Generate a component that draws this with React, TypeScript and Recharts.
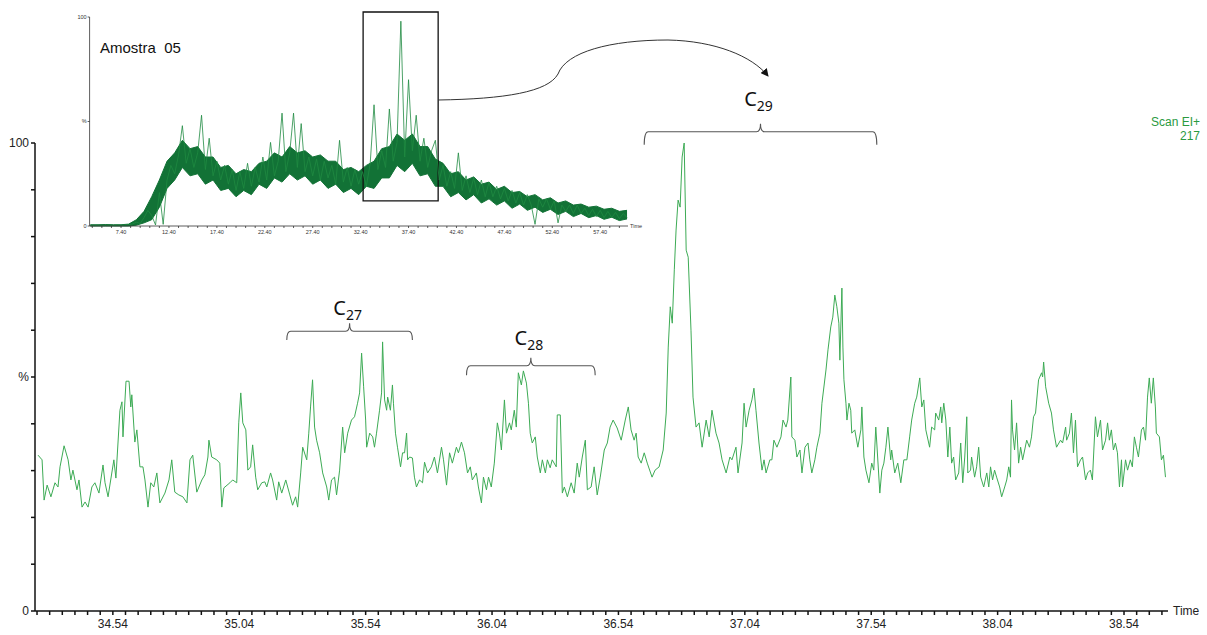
import React from "react";
import { LineChart, ComposedChart, Line, Area, XAxis, YAxis, ReferenceArea } from "recharts";

// main trace: [retention time (min), relative intensity %]
const mainTrace: [number, number][] = [
  [34.244, 33.3], [34.26, 32.3], [34.268, 23.7], [34.28, 26.9], [34.295, 24.4], [34.311, 27.4], [34.323, 26.5], [34.331, 30.8], [34.347, 35.3], [34.363, 32.3],
  [34.374, 28.0], [34.382, 30.1], [34.398, 25.9], [34.406, 28.0], [34.418, 22.2], [34.43, 23.3], [34.442, 22.2], [34.457, 26.5], [34.469, 27.4], [34.485, 25.2],
  [34.501, 31.2], [34.509, 27.4], [34.521, 24.4], [34.544, 32.3], [34.552, 28.4], [34.568, 42.9], [34.576, 44.7], [34.58, 37.2], [34.592, 49.1], [34.604, 49.1],
  [34.611, 43.6], [34.615, 46.2], [34.627, 36.1], [34.635, 38.7], [34.647, 30.8], [34.659, 30.8], [34.667, 28.0], [34.679, 22.2], [34.69, 27.4], [34.702, 26.5],
  [34.714, 29.5], [34.726, 23.1], [34.746, 25.2], [34.762, 28.0], [34.773, 32.3], [34.785, 25.4], [34.801, 24.8], [34.817, 24.4], [34.833, 23.1], [34.845, 32.3],
  [34.856, 33.3], [34.872, 25.4], [34.892, 28.0], [34.904, 29.1], [34.916, 32.9], [34.92, 36.5], [34.931, 32.9], [34.951, 32.3], [34.963, 31.6], [34.971, 22.2],
  [34.979, 26.3], [35.003, 27.4], [35.014, 28.0], [35.03, 27.4], [35.038, 40.2], [35.046, 46.6], [35.054, 40.2], [35.066, 38.7], [35.074, 30.1], [35.085, 30.8],
  [35.093, 35.5], [35.105, 28.6], [35.113, 25.9], [35.129, 27.4], [35.141, 27.6], [35.149, 26.5], [35.164, 29.5], [35.172, 28.0], [35.188, 23.7], [35.196, 27.6],
  [35.208, 25.2], [35.224, 28.0], [35.24, 24.8], [35.251, 22.6], [35.263, 24.4], [35.271, 22.2], [35.283, 29.5], [35.291, 35.0], [35.307, 32.3], [35.315, 38.0],
  [35.322, 43.6], [35.33, 49.4], [35.338, 39.3], [35.346, 36.5], [35.358, 33.8], [35.37, 29.5], [35.386, 26.5], [35.394, 23.7], [35.405, 28.0], [35.417, 28.6],
  [35.425, 24.8], [35.437, 30.1], [35.449, 39.3], [35.457, 33.8], [35.469, 38.0], [35.484, 40.8], [35.496, 41.5], [35.508, 44.4], [35.516, 46.6], [35.524, 55.1],
  [35.532, 47.9], [35.54, 40.8], [35.544, 35.0], [35.556, 38.0], [35.568, 37.2], [35.575, 35.0], [35.583, 38.0], [35.595, 42.9], [35.603, 46.6], [35.607, 57.5],
  [35.615, 45.1], [35.623, 42.9], [35.627, 45.7], [35.638, 42.9], [35.646, 48.3], [35.65, 44.4], [35.658, 38.0], [35.666, 35.0], [35.678, 30.8], [35.686, 33.8],
  [35.694, 33.8], [35.702, 38.0], [35.706, 32.3], [35.714, 32.9], [35.725, 32.7], [35.733, 28.6], [35.741, 26.5], [35.753, 28.0], [35.765, 27.4], [35.773, 31.8],
  [35.785, 29.5], [35.8, 30.8], [35.812, 32.9], [35.824, 29.5], [35.84, 35.0], [35.848, 32.3], [35.86, 26.9], [35.872, 33.8], [35.883, 31.6], [35.899, 35.0],
  [35.907, 33.8], [35.919, 36.1], [35.931, 33.8], [35.943, 29.5], [35.954, 30.8], [35.962, 28.0], [35.978, 29.5], [35.986, 26.5], [35.998, 23.1], [36.006, 28.6],
  [36.018, 25.9], [36.026, 28.6], [36.037, 26.5], [36.049, 31.6], [36.061, 40.2], [36.069, 38.0], [36.077, 34.4], [36.089, 45.1], [36.097, 38.0], [36.109, 40.2],
  [36.116, 38.7], [36.128, 42.9], [36.136, 39.3], [36.144, 50.9], [36.156, 48.3], [36.164, 51.3], [36.176, 48.7], [36.184, 44.4], [36.191, 38.0], [36.199, 35.9],
  [36.211, 37.2], [36.219, 32.9], [36.231, 29.5], [36.239, 32.3], [36.251, 29.5], [36.259, 32.3], [36.27, 30.6], [36.278, 32.3], [36.294, 30.8], [36.298, 41.9],
  [36.31, 41.9], [36.318, 25.2], [36.326, 26.5], [36.338, 24.4], [36.353, 27.4], [36.365, 25.2], [36.377, 31.6], [36.385, 28.6], [36.397, 32.9], [36.409, 36.5],
  [36.417, 25.9], [36.432, 26.5], [36.444, 30.8], [36.456, 24.8], [36.468, 28.6], [36.484, 34.4], [36.496, 35.9], [36.507, 39.3], [36.519, 40.8], [36.535, 39.1],
  [36.551, 36.5], [36.567, 40.8], [36.579, 43.6], [36.59, 38.7], [36.602, 36.5], [36.61, 38.0], [36.618, 32.9], [36.63, 31.6], [36.642, 33.8], [36.654, 31.6],
  [36.673, 28.6], [36.685, 30.1], [36.701, 30.8], [36.717, 34.4], [36.729, 42.3], [36.737, 56.4], [36.745, 65.0], [36.753, 61.5], [36.761, 72.9], [36.768, 81.4],
  [36.776, 87.8], [36.784, 86.3], [36.792, 97.0], [36.8, 100.0], [36.808, 77.1], [36.816, 75.6], [36.827, 60.0], [36.835, 45.7], [36.847, 39.3], [36.859, 40.2],
  [36.871, 35.0], [36.887, 40.8], [36.899, 37.2], [36.91, 42.9], [36.926, 38.0], [36.938, 35.9], [36.95, 32.3], [36.966, 29.5], [36.981, 32.9], [36.989, 32.3],
  [37.005, 35.0], [37.013, 29.5], [37.029, 35.9], [37.037, 44.4], [37.045, 39.3], [37.057, 42.9], [37.068, 45.1], [37.076, 47.6], [37.084, 42.9], [37.096, 35.9],
  [37.108, 30.1], [37.116, 32.3], [37.124, 29.5], [37.139, 32.3], [37.147, 32.3], [37.155, 36.5], [37.167, 35.0], [37.183, 37.2], [37.191, 40.8], [37.203, 39.3],
  [37.21, 40.8], [37.222, 50.0], [37.226, 37.2], [37.238, 36.5], [37.246, 32.9], [37.258, 34.4], [37.266, 29.5], [37.278, 35.0], [37.29, 35.9], [37.297, 32.3],
  [37.305, 29.5], [37.317, 32.3], [37.325, 35.0], [37.337, 38.0], [37.345, 44.4], [37.361, 51.5], [37.369, 55.8], [37.38, 60.7], [37.388, 62.8], [37.396, 67.5],
  [37.404, 65.0], [37.412, 61.5], [37.416, 53.6], [37.424, 69.0], [37.428, 56.4], [37.432, 49.4], [37.44, 44.4], [37.444, 40.8], [37.452, 44.4], [37.459, 42.9],
  [37.463, 38.0], [37.475, 38.7], [37.487, 35.0], [37.499, 38.7], [37.503, 43.6], [37.511, 32.9], [37.519, 30.1], [37.531, 27.4], [37.542, 31.6], [37.55, 30.1],
  [37.558, 39.3], [37.562, 35.9], [37.574, 25.2], [37.582, 30.1], [37.59, 31.6], [37.598, 35.0], [37.606, 39.3], [37.617, 32.3], [37.621, 34.4], [37.633, 29.5],
  [37.645, 31.6], [37.657, 27.4], [37.669, 32.3], [37.681, 32.3], [37.692, 37.2], [37.7, 40.8], [37.712, 44.4], [37.72, 45.7], [37.732, 49.8], [37.74, 43.6],
  [37.748, 45.1], [37.756, 38.7], [37.771, 35.0], [37.779, 39.3], [37.791, 38.7], [37.795, 42.3], [37.807, 40.8], [37.815, 43.6], [37.819, 40.2], [37.827, 44.4],
  [37.835, 40.8], [37.843, 32.9], [37.851, 39.3], [37.858, 31.6], [37.866, 32.9], [37.874, 28.0], [37.886, 29.5], [37.894, 35.9], [37.902, 27.4], [37.91, 32.9],
  [37.918, 41.5], [37.922, 29.5], [37.933, 30.1], [37.937, 32.9], [37.949, 28.6], [37.957, 30.8], [37.965, 35.0], [37.973, 28.6], [37.985, 26.5], [37.997, 29.5],
  [38.005, 26.5], [38.012, 30.8], [38.02, 28.0], [38.028, 30.1], [38.036, 28.6], [38.048, 26.5], [38.056, 24.4], [38.068, 26.5], [38.076, 28.0], [38.084, 30.8],
  [38.091, 28.6], [38.095, 45.1], [38.099, 38.7], [38.107, 34.4], [38.115, 40.2], [38.123, 31.6], [38.131, 35.0], [38.139, 32.3], [38.147, 34.4], [38.155, 36.5],
  [38.166, 35.0], [38.174, 37.2], [38.182, 41.5], [38.19, 42.3], [38.202, 49.4], [38.214, 50.9], [38.218, 50.0], [38.222, 53.2], [38.23, 47.9], [38.242, 44.4],
  [38.253, 42.3], [38.261, 38.7], [38.273, 35.0], [38.289, 36.5], [38.297, 35.9], [38.309, 39.3], [38.313, 36.5], [38.324, 38.0], [38.332, 42.3], [38.34, 33.8],
  [38.348, 40.8], [38.356, 30.8], [38.368, 32.3], [38.376, 32.9], [38.388, 28.0], [38.396, 29.5], [38.407, 30.1], [38.415, 28.0], [38.427, 41.5], [38.435, 37.2],
  [38.447, 40.8], [38.455, 34.4], [38.467, 36.5], [38.475, 40.2], [38.482, 36.5], [38.49, 38.7], [38.498, 34.4], [38.506, 35.9], [38.514, 33.8], [38.522, 26.5],
  [38.53, 32.3], [38.534, 26.5], [38.546, 32.3], [38.554, 30.1], [38.565, 32.3], [38.573, 30.8], [38.581, 37.2], [38.589, 35.0], [38.597, 32.9], [38.609, 38.7],
  [38.617, 39.3], [38.625, 36.5], [38.633, 45.7], [38.64, 49.8], [38.648, 44.4], [38.656, 49.8], [38.664, 43.6], [38.668, 38.0], [38.68, 37.2], [38.688, 32.3],
  [38.696, 33.3], [38.704, 28.6],
];

const mainTimeLabels = [34.54, 35.04, 35.54, 36.04, 36.54, 37.04, 37.54, 38.04, 38.54];
const percentTicks = [0, 10, 20, 30, 40, 50, 60, 70, 80, 90, 100];

// inset: whole run, one reading every 0.4 min from 4.2 min
const insetStart = 4.2;
const insetStep = 0.4;
const insetValues = [
  0.3, 0.2, 0.3, 0.2, 0.3, 0.3, 0.2, 0.4, 0.3, 0.5, 0.6, 1.0, 1.8, 1.2, 4.0, 7.5, 5.0, 0.5, 16, 0.8,
  22, 29, 25, 34, 48, 30, 37, 28, 35, 53, 27, 42, 24, 31, 22, 29, 20, 27, 17, 26,
  18, 30, 19, 28, 21, 33, 22, 40, 24, 31, 54, 26, 35, 54, 28, 49, 26, 33, 24, 32,
  22, 31, 23, 29, 20, 41, 21, 28, 19, 27, 20, 26, 19, 30, 58, 27, 36, 28, 56, 31,
  40, 98, 33, 70, 36, 53, 31, 42, 28, 36, 41, 22, 29, 19, 26, 18, 35, 17, 24, 16,
  23, 15, 22, 14, 21, 14, 19, 13, 18, 12, 17, 11, 16, 10, 15, 10, 0.8, 13, 9, 13,
  8, 12, 1.5, 10, 7, 10, 6, 10, 6, 8.5, 5, 8, 4.5, 7.5, 4, 7, 4, 6.5, 3.5, 6,
  4,
];
// dense noise band of the inset, one pair every 0.8 min from 4.2 min
const bandStep = 0.8;
const insetLow = [
  0, 0, 0, 0, 0, 0, 0.4, 1.5, 3, 9, 18, 22, 28, 24, 25, 20, 22, 17, 18, 14,
  17, 15, 20, 18, 23, 21, 25, 22, 24, 20, 22, 18, 20, 16, 18, 15, 19, 18, 23, 23,
  29, 26, 30, 24, 25, 19, 19, 14, 16, 12.5, 15, 11, 13, 10, 12, 8.5, 10.5, 7.5, 9, 6.5,
  8, 5.5, 7, 4.5, 6, 4, 5, 3.2, 4.2, 2.6, 3.4,
];
const insetHigh = [
  0.6, 0.6, 0.7, 0.6, 0.6, 0.9, 3, 7, 14, 22, 31, 35, 41, 37, 38, 33, 33, 28, 29, 25,
  27, 26, 30, 31, 35, 33, 38, 35, 36, 33, 34, 31, 31, 27, 28, 26, 29, 31, 37, 38,
  44, 41, 44, 38, 38, 32, 30, 25, 26, 22, 23.5, 20, 21, 17.5, 19, 16, 16.5, 14, 15, 12.5,
  13.5, 11, 12, 10, 10.5, 9, 9.5, 8, 8.5, 7, 7.5,
];
const insetLabels = [7.4, 12.4, 17.4, 22.4, 27.4, 32.4, 37.4, 42.4, 47.4, 52.4, 57.4];

// homologue groups marked with braces (time range, intensity range)
const braceGroups = [
  { carbons: "27", from: 35.228, to: 35.725, low: 57.9, high: 61.5 },
  { carbons: "28", from: 35.939, to: 36.448, low: 50.4, high: 54.1 },
  { carbons: "29", from: 36.642, to: 37.562, low: 99.6, high: 104.1 },
];
const labelLift: Record<string, number> = { "27": 8, "28": 13, "29": 18 };
// enlarged window drawn on the inset
const zoomWindow = { from: 32.66, to: 40.49, low: 12.0, high: 102.4 };

const mainData = mainTrace.map(([time, value]) => ({ time, value }));
const insetData = insetValues.map((value, i) => ({
  time: +(insetStart + i * insetStep).toFixed(1),
  value,
}));
const bandData = insetLow.map((low, i) => ({
  time: +(insetStart + i * bandStep).toFixed(1),
  band: [low, insetHigh[i]],
}));

const mainTicks: number[] = [];
for (let t = 34.24; t <= 38.711; t += 0.05) mainTicks.push(+t.toFixed(2));
const insetTicks: number[] = [];
for (let t = 4.4; t <= 60.3; t += 1) insetTicks.push(+t.toFixed(1));

const sans = "Liberation Sans, Arial, sans-serif";

const braceShape = (carbons: string) => (props: any) => {
  const { x, y, width, height } = props;
  const tip = 8;
  const r = 4;
  const bar = y + tip;
  const cx = x + width / 2;
  const bottom = y + height;
  const d = `M${x},${bottom} Q${x},${bar} ${x + r},${bar} L${cx - r},${bar} Q${cx},${bar} ${cx},${y} Q${cx},${bar} ${cx + r},${bar} L${x + width - r},${bar} Q${x + width},${bar} ${x + width},${bottom}`;
  return (
    <g>
      <path d={d} fill="none" stroke="#555" strokeWidth={1.1} />
      <text
        x={cx - 2}
        y={y - labelLift[carbons]}
        textAnchor="middle"
        fontFamily="Noto Sans, sans-serif"
        fontSize={20}
        fill="#111"
      >
        C<tspan fontSize={14} dy={5}>{carbons}</tspan>
      </text>
    </g>
  );
};

const App: React.FC = () => {
  return (
    <div style={{ position: "absolute", left: 0, top: 0, width: 1207, height: 635, background: "#fff" }}>
      <div style={{ position: "absolute", left: 0, top: 0 }}>
        <LineChart width={1207} height={635} data={mainData} margin={{ top: 143, right: 39, bottom: 0, left: 0 }}>
          <XAxis
            dataKey="time"
            type="number"
            domain={[34.232, 38.714]}
            allowDataOverflow
            ticks={mainTicks}
            interval={0}
            height={24}
            tickSize={4}
            tickMargin={4}
            stroke="#111"
            strokeWidth={1.5}
            tick={{ fontSize: 12, fontFamily: sans, fill: "#222" }}
            tickFormatter={(t: number) =>
              mainTimeLabels.some((l) => Math.abs(l - t) < 0.001) ? t.toFixed(2) : ""
            }
          />
          <YAxis
            type="number"
            domain={[0, 100]}
            ticks={percentTicks}
            interval={0}
            width={35}
            tickSize={4}
            tickMargin={2}
            stroke="#111"
            strokeWidth={1.5}
            tick={{ fontSize: 12, fontFamily: sans, fill: "#222" }}
            tickFormatter={(v: number) => (v === 0 ? "0" : v === 50 ? "%" : v === 100 ? "100" : "")}
          />
          <Line
            type="linear"
            dataKey="value"
            stroke="#3dab55"
            strokeWidth={1}
            dot={false}
            isAnimationActive={false}
          />
          {braceGroups.map((g) => (
            <ReferenceArea
              key={g.carbons}
              x1={g.from}
              x2={g.to}
              y1={g.low}
              y2={g.high}
              ifOverflow="visible"
              shape={braceShape(g.carbons)}
            />
          ))}
        </LineChart>
      </div>

      <div style={{ position: "absolute", left: 60, top: 0 }}>
        <ComposedChart width={600} height={245} margin={{ top: 17, right: 32, bottom: 0, left: 0 }}>
          <XAxis
            dataKey="time"
            type="number"
            domain={[4.12, 60.3]}
            allowDataOverflow
            ticks={insetTicks}
            interval={0}
            height={19}
            tickSize={2}
            tickMargin={2}
            stroke="#333"
            strokeWidth={0.8}
            tick={{ fontSize: 5.5, fontFamily: sans, fill: "#333" }}
            tickFormatter={(t: number) =>
              insetLabels.some((l) => Math.abs(l - t) < 0.001) ? t.toFixed(2) : ""
            }
          />
          <YAxis
            type="number"
            domain={[0, 100]}
            ticks={[0, 50, 100]}
            interval={0}
            width={29.6}
            tickSize={2}
            tickMargin={1}
            stroke="#333"
            strokeWidth={0.8}
            tick={{ fontSize: 5.5, fontFamily: sans, fill: "#333" }}
            tickFormatter={(v: number) => (v === 50 ? "%" : String(v))}
          />
          <Area
            data={bandData}
            type="linear"
            dataKey="band"
            stroke="#127236"
            strokeWidth={1}
            fill="#127236"
            fillOpacity={1}
            isAnimationActive={false}
          />
          <Line
            data={insetData}
            type="linear"
            dataKey="value"
            stroke="#1f8a41"
            strokeWidth={0.8}
            dot={false}
            isAnimationActive={false}
          />
          <ReferenceArea
            x1={zoomWindow.from}
            x2={zoomWindow.to}
            y1={zoomWindow.low}
            y2={zoomWindow.high}
            ifOverflow="visible"
            fill="none"
            stroke="#111"
            strokeWidth={1.3}
          />
        </ComposedChart>
      </div>

      <svg width={1207} height={635} style={{ position: "absolute", left: 0, top: 0, pointerEvents: "none" }}>
        <defs>
          <marker id="head" markerWidth="8" markerHeight="8" refX="7" refY="4" orient="auto" markerUnits="userSpaceOnUse">
            <path d="M0,0 L8,4 L0,8 z" fill="#111" />
          </marker>
        </defs>
        <path
          d="M438,100 C505,99 548,92 558,74 C566,52 610,40 668,40 C715,41 752,56 768,76"
          fill="none"
          stroke="#333"
          strokeWidth={1}
          markerEnd="url(#head)"
        />
      </svg>

      <div style={{ position: "absolute", left: 100, top: 39, fontFamily: sans, fontSize: 15, color: "#111", whiteSpace: "pre" }}>
        Amostra  05
      </div>
      <div style={{ position: "absolute", left: 630, top: 223, fontFamily: sans, fontSize: 5.5, color: "#333" }}>Time</div>
      <div style={{ position: "absolute", left: 1173, top: 604, fontFamily: sans, fontSize: 12, color: "#222" }}>Time</div>
      <div
        style={{
          position: "absolute",
          right: 7,
          top: 115,
          fontFamily: sans,
          fontSize: 12,
          lineHeight: "14px",
          color: "#2a9a3f",
          textAlign: "right",
        }}
      >
        Scan EI+
        <br />
        217
      </div>
    </div>
  );
};

export default App;
